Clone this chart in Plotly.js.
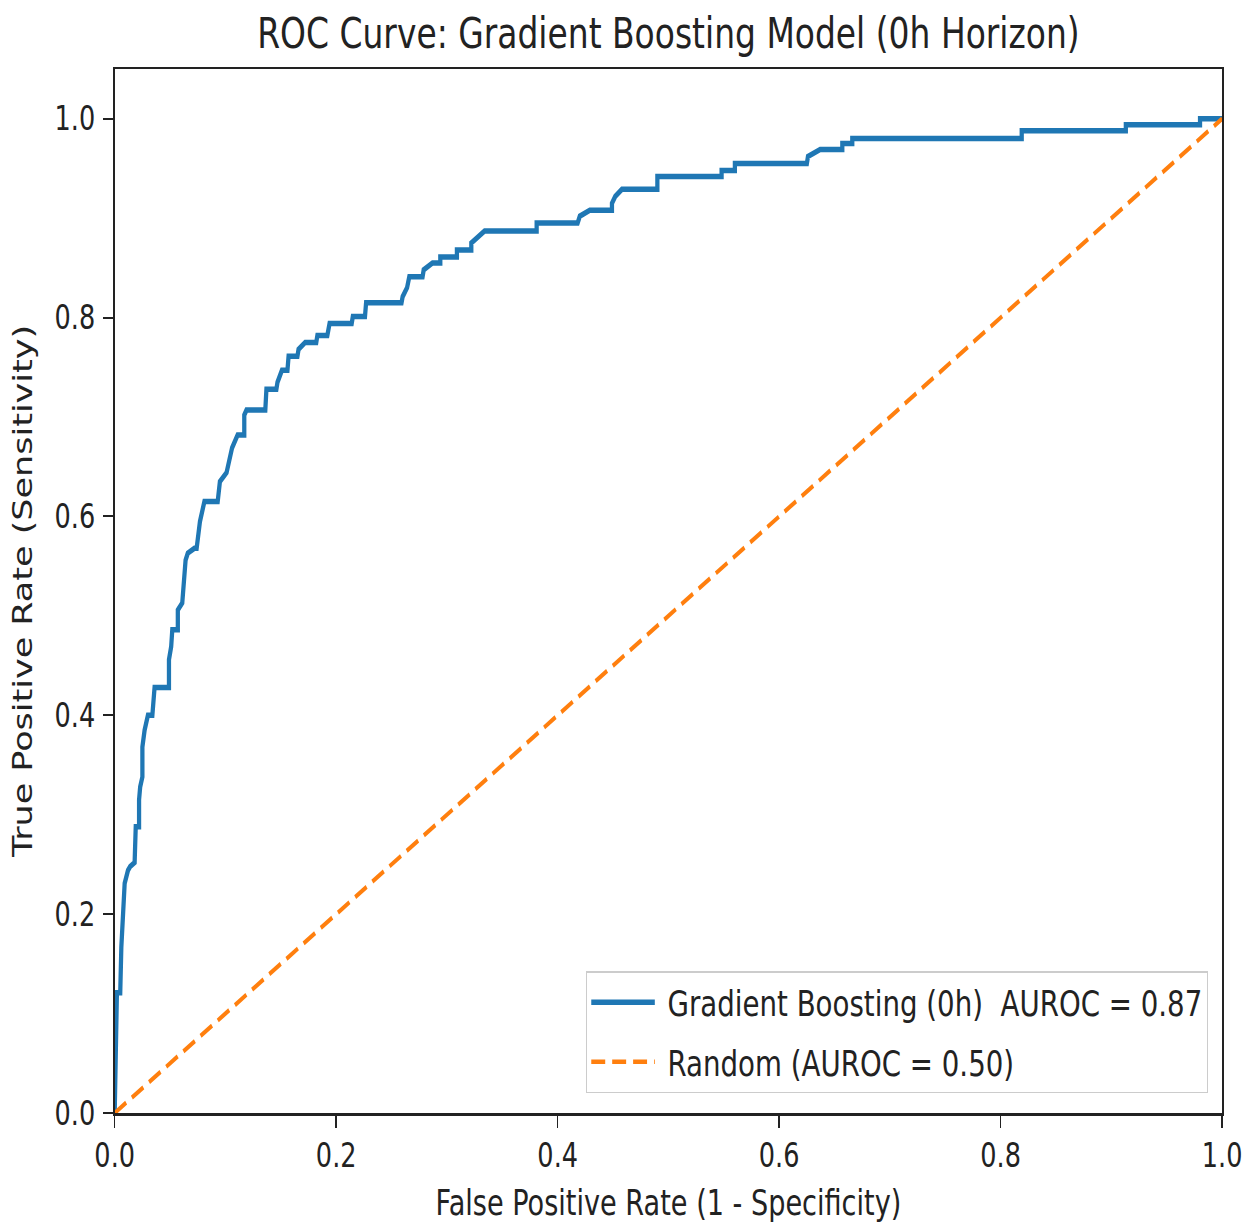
<!DOCTYPE html>
<html>
<head>
<meta charset="utf-8">
<script src="https://cdn.plot.ly/plotly-3.0.1.min.js"></script>
<style>
html, body { margin:0; padding:0; overflow:hidden; background:#fff; width:1247px; height:1223px; }
#wrap { width:1609px; height:1223px; transform:scaleX(0.775); transform-origin:0 0; }
#chart { width:1609px; height:1223px; }
</style>
</head>
<body>
<div id="wrap"><div id="chart"></div></div>
<script>
// ROC curve vertices (False Positive Rate, True Positive Rate)
var fpr = [0, 0.001, 0.002, 0.005, 0.006, 0.009, 0.012, 0.014, 0.018, 0.019, 0.022, 0.022, 0.023, 0.025, 0.025, 0.027, 0.030, 0.034, 0.036, 0.049, 0.049, 0.051, 0.052, 0.057, 0.057, 0.061, 0.062, 0.064, 0.066, 0.072, 0.074, 0.077, 0.081, 0.093, 0.095, 0.101, 0.106, 0.111, 0.117, 0.117, 0.119, 0.136, 0.137, 0.146, 0.147, 0.151, 0.156, 0.157, 0.165, 0.166, 0.172, 0.182, 0.183, 0.192, 0.194, 0.214, 0.215, 0.226, 0.227, 0.259, 0.260, 0.264, 0.266, 0.278, 0.279, 0.287, 0.294, 0.294, 0.309, 0.309, 0.322, 0.322, 0.328, 0.334, 0.381, 0.381, 0.418, 0.420, 0.429, 0.449, 0.449, 0.452, 0.458, 0.490, 0.490, 0.548, 0.548, 0.560, 0.560, 0.625, 0.626, 0.637, 0.657, 0.657, 0.666, 0.666, 0.819, 0.819, 0.913, 0.913, 0.980, 0.980, 1.0];
var tpr = [0, 0.070, 0.121, 0.121, 0.167, 0.231, 0.244, 0.248, 0.252, 0.288, 0.288, 0.315, 0.328, 0.338, 0.368, 0.385, 0.400, 0.400, 0.428, 0.428, 0.456, 0.469, 0.486, 0.486, 0.506, 0.513, 0.533, 0.556, 0.563, 0.568, 0.568, 0.595, 0.615, 0.615, 0.635, 0.644, 0.669, 0.682, 0.682, 0.702, 0.707, 0.707, 0.728, 0.728, 0.735, 0.747, 0.747, 0.761, 0.761, 0.768, 0.775, 0.775, 0.782, 0.782, 0.794, 0.794, 0.801, 0.801, 0.815, 0.815, 0.821, 0.830, 0.841, 0.841, 0.848, 0.855, 0.855, 0.861, 0.861, 0.868, 0.868, 0.875, 0.881, 0.887, 0.887, 0.895, 0.895, 0.902, 0.908, 0.908, 0.915, 0.922, 0.929, 0.929, 0.942, 0.942, 0.948, 0.948, 0.955, 0.955, 0.962, 0.969, 0.969, 0.975, 0.975, 0.980, 0.980, 0.988, 0.988, 0.994, 0.994, 1.0, 1.0];
var randomX = [0, 1];
var randomY = [0, 1];
var tickValues = [0, 0.2, 0.4, 0.6, 0.8, 1.0];
var tickLabels = ['0.0', '0.2', '0.4', '0.6', '0.8', '1.0'];
var modelName = '\u00a0Gradient Boosting (0h)\u00a0\u00a0AUROC = 0.87';
var randomName = '\u00a0Random (AUROC = 0.50)';

var traces = [
  { x: fpr, y: tpr, type: 'scatter', mode: 'lines', name: modelName, legendgroup: 'a',
    line: { color: '#1f77b4', width: 5.5 } },
  { x: randomX, y: randomY, type: 'scatter', mode: 'lines', name: randomName, legendgroup: 'b',
    line: { color: '#ff7f0e', width: 4.5, dash: '18px,9px' } }
];

var axisCommon = {
  showline: true, mirror: true, linecolor: '#222', linewidth: 2.5,
  ticks: 'outside', ticklen: 12, tickwidth: 2, tickcolor: '#222',
  showgrid: false, zeroline: false,
  tickmode: 'array', tickvals: tickValues, ticktext: tickLabels,
  tickfont: { family: 'DejaVu Sans', size: 33, color: '#222' }
};

var layout = {
  width: 1609, height: 1223,
  margin: { l: 148, r: 32, t: 69, b: 110 },
  paper_bgcolor: '#ffffff', plot_bgcolor: '#ffffff',
  font: { family: 'DejaVu Sans', color: '#222' },
  title: { text: 'ROC Curve: Gradient Boosting Model (0h Horizon)', x: 0.5, xref: 'paper',
           y: 0.973, yref: 'container', yanchor: 'middle',
           font: { family: 'DejaVu Sans', size: 42.5, color: '#222' } },
  xaxis: Object.assign({}, axisCommon, { range: [0, 1],
    title: { text: 'False Positive Rate (1 - Specificity)', standoff: 19,
             font: { family: 'DejaVu Sans', size: 35, color: '#222' } } }),
  yaxis: Object.assign({}, axisCommon, { range: [0, 1.05], ticklabelstandoff: 4,
    title: { text: 'True Positive Rate (Sensitivity)', standoff: 18,
             font: { family: 'DejaVu Sans', size: 35, color: '#222' } } }),
  showlegend: true,
  legend: { x: 0.987, xanchor: 'right', y: 0.019, yanchor: 'bottom',
            bgcolor: 'rgba(255,255,255,0.85)', bordercolor: '#cccccc', borderwidth: 1.5,
            font: { family: 'DejaVu Sans', size: 35.7, color: '#222' },
            itemwidth: 82, tracegroupgap: 10 }
};

Plotly.newPlot('chart', traces, layout, { staticPlot: true, displayModeBar: false });
</script>
</body>
</html>
